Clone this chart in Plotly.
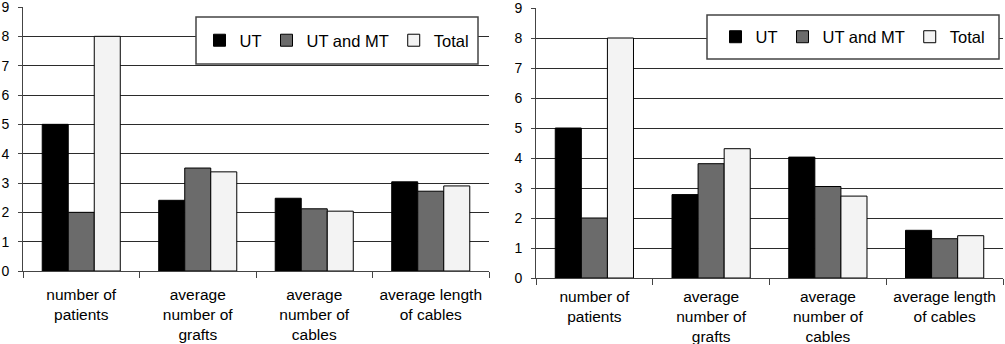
import plotly.graph_objects as go

categories = ["number of<br>patients", "average<br>number of<br>grafts",
              "average<br>number of<br>cables", "average length<br>of cables"]
series_names = ["UT", "UT and MT", "Total"]

left_ut = [5.0, 2.41, 2.48, 3.04]
left_utmt = [2.0, 3.51, 2.12, 2.72]
left_total = [8.0, 3.38, 2.04, 2.90]

right_ut = [5.0, 2.78, 4.03, 1.59]
right_utmt = [2.0, 3.81, 3.05, 1.31]
right_total = [8.0, 4.31, 2.73, 1.41]

y_ticks = list(range(0, 10))

colors = ["#000000", "#6b6b6b", "#f3f3f3"]
FONT = "Liberation Sans, Arial, sans-serif"

fig = go.Figure()

for name, vals, col in zip(series_names, [left_ut, left_utmt, left_total], colors):
    fig.add_trace(go.Bar(x=categories, y=vals, name=name, marker=dict(color=col, line=dict(color="#000", width=1)),
                         xaxis="x", yaxis="y", legend="legend"))
for name, vals, col in zip(series_names, [right_ut, right_utmt, right_total], colors):
    fig.add_trace(go.Bar(x=categories, y=vals, name=name, marker=dict(color=col, line=dict(color="#000", width=1)),
                         xaxis="x2", yaxis="y2", legend="legend2"))

W, H = 1005, 344

def px_x(p):
    return p / W

def px_y(p):
    return 1 - p / H

xaxis_common = dict(type="category", showline=True, linecolor="#444", linewidth=1,
                    ticks="outside", tickson="boundaries", ticklen=6, tickcolor="#444",
                    showgrid=False, tickfont=dict(family=FONT, size=15.5, color="#000"),
                    ticklabeloverflow="allow", fixedrange=True, automargin=False)
yaxis_common = dict(range=[0, 9], tickvals=y_ticks, showline=True, linecolor="#444", linewidth=1,
                    ticks="outside", ticklen=4, tickcolor="#444", showgrid=True, gridcolor="#2b2b2b",
                    gridwidth=1, zeroline=False, tickfont=dict(family=FONT, size=14, color="#000"),
                    ticklabelstandoff=6, ticklabeloverflow="allow",
                    fixedrange=True, automargin=False)

legend_common = dict(orientation="h", xanchor="center", yanchor="middle",
                     bgcolor="rgba(0,0,0,0)", borderwidth=0,
                     font=dict(family=FONT, size=16.5, color="#000"), itemwidth=30)

fig.update_layout(
    width=W, height=H,
    margin=dict(l=0, r=0, t=0, b=0, autoexpand=False),
    paper_bgcolor="white", plot_bgcolor="white",
    barmode="group", bargap=0.33, bargroupgap=0,
    xaxis=dict(domain=[px_x(23), px_x(489)], anchor="y", ticklabelstandoff=9, **xaxis_common),
    yaxis=dict(domain=[px_y(271), px_y(7)], anchor="x", **yaxis_common),
    xaxis2=dict(domain=[px_x(536), px_x(1003)], anchor="y2", ticklabelstandoff=4, **xaxis_common),
    yaxis2=dict(domain=[px_y(278), px_y(8)], anchor="x2", **yaxis_common),
    legend=dict(x=px_x(337), y=px_y(40.5), **legend_common),
    legend2=dict(x=px_x(853), y=px_y(37), **legend_common),
    shapes=[
        dict(type="rect", xref="paper", yref="paper", x0=px_x(196), x1=px_x(478), y0=px_y(64), y1=px_y(17),
             line=dict(color="#444", width=1.5), fillcolor="white", layer="above"),
        dict(type="rect", xref="paper", yref="paper", x0=px_x(707), x1=px_x(999), y0=px_y(59), y1=px_y(15),
             line=dict(color="#444", width=1.5), fillcolor="white", layer="above"),
    ],
    font=dict(family=FONT, color="#000"),
)

fig.write_html(
    "out.html",
    config={"displayModeBar": False, "staticPlot": True},
    post_script="document.body.style.margin='0';document.documentElement.style.overflow='hidden';",
)
